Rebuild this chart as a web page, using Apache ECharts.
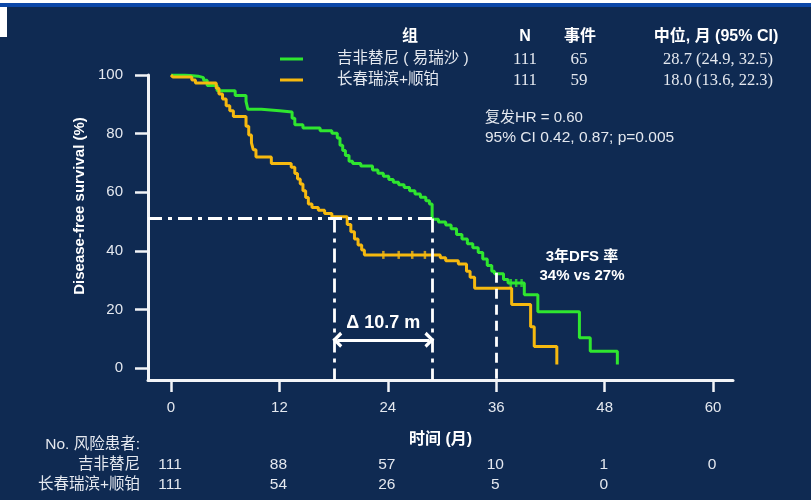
<!DOCTYPE html>
<html><head><meta charset="utf-8">
<script src="https://cdn.jsdelivr.net/npm/echarts@6/dist/echarts.min.js"></script>
<style>html,body{margin:0;padding:0;background:#0f2a52;}#c{width:811px;height:500px;}</style>
</head><body><div id="c"></div>
<script>
// ---- data ----
const xTicks = [0, 12, 24, 36, 48, 60];
const yTicks = [0, 20, 40, 60, 80, 100];

const groupNames = ['吉非替尼 ( 易瑞沙 )', '长春瑞滨+顺铂'];
const riskNames = ['吉非替尼', '长春瑞滨+顺铂'];
const groupN = ['111', '111'];
const groupEvents = ['65', '59'];
const groupMedian = ['28.7 (24.9, 32.5)', '18.0 (13.6, 22.3)'];

const gefT = [0, 1.5, 3.0, 3.6, 4.0, 5.1, 7.1, 8.3, 8.5, 10.0, 12.0, 13.4, 13.7, 14.6, 16.5, 17.8, 18.4, 18.7, 19.0, 19.3, 19.7, 20.1, 21.0, 22.3, 22.9, 23.5, 24.1, 24.6, 25.2, 25.8, 26.4, 27.0, 27.6, 28.2, 28.6, 28.9, 29.6, 30.4, 31.0, 31.6, 32.2, 32.8, 33.4, 34.0, 34.5, 35.0, 35.5, 35.8, 36.8, 37.3, 39.1, 40.6, 45.2, 46.4, 49.4];
const gefS = [100, 99.6, 99.1, 98.2, 96.4, 94.6, 93.0, 91.0, 88.3, 87.8, 87.4, 85.2, 83.0, 81.9, 81.0, 80.1, 78.5, 76.0, 74.2, 72.5, 70.6, 69.8, 68.9, 67.6, 66.5, 65.4, 64.3, 63.4, 62.5, 61.6, 60.5, 59.4, 58.3, 57.1, 56.0, 50.8, 49.8, 48.8, 47.5, 45.6, 44.0, 42.4, 41.0, 39.4, 37.2, 35.0, 33.0, 32.2, 30.2, 29.0, 25.0, 19.2, 10.3, 5.7, 1.2];

const vinT = [0, 0.2, 2.3, 2.7, 5.0, 5.3, 5.7, 6.1, 6.5, 6.9, 8.3, 8.6, 8.9, 9.1, 9.4, 11.1, 13.3, 13.7, 14.0, 14.3, 14.6, 14.9, 15.2, 15.6, 16.3, 17.0, 17.8, 19.5, 19.9, 20.3, 20.7, 21.1, 21.4, 29.8, 30.4, 31.8, 32.7, 33.1, 33.6, 37.7, 39.8, 40.2, 42.7];
const vinS = [100, 99.3, 98.3, 97.3, 95.5, 93.5, 91.8, 89.5, 87.8, 85.8, 82.5, 79.5, 76.8, 74.5, 72.0, 69.8, 68.5, 66.4, 64.5, 62.8, 60.5, 58.2, 56.0, 54.8, 53.8, 52.7, 51.6, 49.0, 46.5, 44.0, 42.0, 40.3, 38.6, 37.6, 36.6, 35.5, 33.0, 31.0, 27.2, 21.7, 14.1, 7.3, 1.2];

const vinCensorT = [23.5, 25.2, 26.7, 28.1];
const vinCensorS = [38.6, 38.6, 38.6, 38.6];
const gefCensorT = [37.6, 38.2, 38.8];
const gefCensorS = [29.0, 29.0, 29.0];

const riskGef = ['111', '88', '57', '10', '1', '0'];
const riskVin = ['111', '54', '26', '5', '0'];

const medianGef = 28.9, medianVin = 18.1, medianLevel = 51;
const dfsTime = 36, dfsLevel = 32.5;
const arrowLevel = 9.6;

// ---- styles ----
const BG = '#0f2a52';
const GREEN = '#2fe62f';
const YELLOW = '#f6b90f';
const AX = '#f2f4f7';
const TXT = '#e4e8ef';
const SANS = '"Liberation Sans", Arial, "Noto Sans CJK SC", sans-serif';
const SERIF = '"Liberation Serif", "Times New Roman", "Noto Sans CJK SC", serif';
const XMIN = -2.55, XMAX = 62.2, YMIN = -4.1, YMAX = 100;

const zip = (a, b) => a.map((v, i) => [v, b[i]]);
const chevron = 'path://M0,11 L11,0 L22,11 L18.5,14 L11,6.5 L3.5,14 Z';

const chart = echarts.init(document.getElementById('c'), null, {renderer: 'canvas'});

const option = {
  backgroundColor: BG,
  animation: false,
  grid: {left: 148, right: 78, top: 75, bottom: 120},
  xAxis: {
    type: 'value', min: XMIN, max: XMAX,
    axisLine: {show: true, onZero: false, lineStyle: {color: AX, width: 3}},
    axisTick: {show: true, customValues: xTicks, length: 12, lineStyle: {color: AX, width: 2.5}},
    axisLabel: {show: true, customValues: xTicks, margin: 20, color: TXT, fontSize: 15, fontFamily: SANS},
    splitLine: {show: false},
    name: '时间 (月)', nameLocation: 'middle', nameGap: 52,
    nameTextStyle: {color: '#ffffff', fontSize: 16, fontWeight: 'bold', fontFamily: SANS}
  },
  yAxis: {
    type: 'value', min: YMIN, max: YMAX,
    axisLine: {show: true, onZero: false, lineStyle: {color: AX, width: 3}},
    axisTick: {show: true, customValues: yTicks, length: 13, lineStyle: {color: AX, width: 2.5}},
    axisLabel: {show: true, customValues: yTicks, margin: 25, color: TXT, fontSize: 15, fontFamily: SANS},
    splitLine: {show: false}
  },
  series: [
    {type: 'line', step: 'end', data: zip(gefT, gefS), symbol: 'none', z: 3,
     lineStyle: {color: GREEN, width: 3}},
    {type: 'line', step: 'end', data: zip(vinT, vinS), symbol: 'none', z: 4,
     lineStyle: {color: YELLOW, width: 3}},
    {type: 'scatter', data: zip(gefCensorT, gefCensorS), symbol: 'rect', symbolSize: [2.5, 8], z: 3,
     itemStyle: {color: GREEN}},
    {type: 'scatter', data: zip(vinCensorT, vinCensorS), symbol: 'rect', symbolSize: [2.5, 8], z: 4,
     itemStyle: {color: YELLOW}},
    {type: 'line', data: [], z: 5,
     markLine: {silent: true, symbol: 'none', label: {show: false}, animation: false,
       lineStyle: {color: '#ffffff', width: 2.8, type: [14, 6, 4, 6]},
       data: [
         [{coord: [XMIN, medianLevel]}, {coord: [medianGef, medianLevel]}],
         [{coord: [medianVin, medianLevel]}, {coord: [medianVin, YMIN]}],
         [{coord: [medianGef, medianLevel]}, {coord: [medianGef, YMIN]}]
       ]}},
    {type: 'line', data: [], z: 5,
     markLine: {silent: true, symbol: 'none', label: {show: false}, animation: false,
       lineStyle: {color: '#ffffff', width: 2.8, type: [10, 6]},
       data: [[{coord: [dfsTime, dfsLevel]}, {coord: [dfsTime, YMIN]}]]}},
    {type: 'line', data: [], z: 5,
     markLine: {silent: true, symbol: [chevron, chevron], symbolSize: [16, 10], label: {show: false}, animation: false,
       lineStyle: {color: '#ffffff', width: 3, type: 'solid'},
       data: [[{coord: [medianVin + 0.3, arrowLevel]}, {coord: [medianGef - 0.3, arrowLevel]}]]}}
  ]
};
chart.setOption(option);

function px(t, s) { return chart.convertToPixel({gridIndex: 0}, [t, s]); }

const g = [];
// top bands
g.push({type: 'rect', shape: {x: 0, y: 0, width: 811, height: 3}, style: {fill: '#ffffff'}, z: 100});
g.push({type: 'rect', shape: {x: 0, y: 3, width: 811, height: 4}, style: {fill: '#0b47a8'}, z: 100});
g.push({type: 'rect', shape: {x: 0, y: 7, width: 7, height: 30}, style: {fill: '#ffffff'}, z: 100});

function t2(x, y, s, style, extra) {
  g.push(Object.assign({type: 'text', x: x, y: y, z: 100,
    style: Object.assign({text: s, fill: TXT, fontSize: 15, fontFamily: SANS, align: 'left', verticalAlign: 'middle'}, style || {})}, extra || {}));
}

// legend table header
t2(410, 37, '组', {fill: '#ffffff', fontSize: 16, fontWeight: 'bold', align: 'center'});
t2(525, 37, 'N', {fill: '#ffffff', fontSize: 16, fontWeight: 'bold', align: 'center'});
t2(580, 37, '事件', {fill: '#ffffff', fontSize: 16, fontWeight: 'bold', align: 'center'});
t2(716, 37, '中位, 月 (95% CI)', {fill: '#ffffff', fontSize: 16, fontWeight: 'bold', align: 'center'});
// legend rows
const rowY = [59, 80];
const rowColors = [GREEN, YELLOW];
for (let i = 0; i < 2; i++) {
  g.push({type: 'line', shape: {x1: 280, y1: rowY[i], x2: 303, y2: rowY[i]}, style: {stroke: rowColors[i], lineWidth: 3}, z: 100});
  t2(337, rowY[i], groupNames[i], {fontSize: 15.5});
  t2(525, rowY[i] + 1, groupN[i], {fontSize: 17, fontFamily: SERIF, align: 'center'});
  t2(579, rowY[i] + 1, groupEvents[i], {fontSize: 17, fontFamily: SERIF, align: 'center'});
  t2(773, rowY[i] + 1, groupMedian[i], {fontSize: 16.5, fontFamily: SERIF, align: 'right'});
}
// HR text
t2(485, 118, '复发HR = 0.60', {fontSize: 15});
t2(485, 138, '95% CI 0.42, 0.87; p=0.005', {fontSize: 15.5});
// 3-year DFS
t2(582, 257, '3年DFS 率', {fill: '#ffffff', fontSize: 15, fontWeight: 'bold', align: 'center'});
t2(582, 276, '34% vs 27%', {fill: '#ffffff', fontSize: 15, fontWeight: 'bold', align: 'center'});
// delta label
const dp = px((medianVin + medianGef) / 2, arrowLevel);
t2(dp[0], dp[1] - 17, 'Δ 10.7 m', {fill: '#ffffff', fontSize: 18, fontWeight: 'bold', align: 'center'});
// y axis name
t2(80, 206, 'Disease-free survival (%)', {fill: '#ffffff', fontSize: 15, fontWeight: 'bold', align: 'center'}, {rotation: Math.PI / 2});
// risk table
t2(140, 445, 'No. 风险患者:', {fontSize: 15.5, align: 'right'});
t2(140, 465, riskNames[0], {fontSize: 15.5, align: 'right'});
t2(140, 485, riskNames[1], {fontSize: 15.5, align: 'right'});
xTicks.forEach((t, i) => {
  const x = px(t, 0)[0];
  if (riskGef[i] !== undefined) t2(x - 1, 465, riskGef[i], {fontSize: 15.5, align: 'center'});
  if (riskVin[i] !== undefined) t2(x - 1, 485, riskVin[i], {fontSize: 15.5, align: 'center'});
});

chart.setOption({graphic: {elements: g}});
</script>
</body></html>
